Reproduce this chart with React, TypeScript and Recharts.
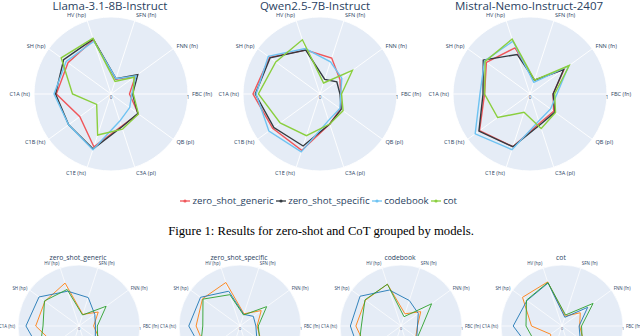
import React from 'react';
import { RadarChart, Radar, PolarGrid, PolarAngleAxis, PolarRadiusAxis, Legend } from 'recharts';

// ---------- data (values listed counter-clockwise from FBC at 3 o'clock) ----------
const categories = ['FBC (fn)', 'FNN (fn)', 'SFN (fn)', 'HV (hp)', 'SH (hp)', 'C1A (ht)', 'C1B (ht)', 'C1E (ht)', 'C3A (pl)', 'QB (pl)'];
const radialTickCount = 6;
const methods = ['zero_shot_generic', 'zero_shot_specific', 'codebook', 'cot'];
const models = ['Llama-3.1-8B-Instruct', 'Qwen2.5-7B-Instruct', 'Mistral-Nemo-Instruct-2407'];
const captionText = 'Figure 1: Results for zero-shot and CoT grouped by models.';

const llamaGeneric = [0.24, 0.39, 0.2, 0.74, 0.69, 0.71, 0.5, 0.72, 0.44, 0.44];
const llamaSpecific = [0.28, 0.43, 0.21, 0.75, 0.76, 0.72, 0.68, 0.75, 0.45, 0.43];
const llamaCodebook = [0.27, 0.4, 0.21, 0.72, 0.72, 0.74, 0.68, 0.76, 0.37, 0.3];
const llamaCot = [0.29, 0.37, 0.17, 0.76, 0.8, 0.5, 0.23, 0.56, 0.48, 0.44];

const qwenGeneric = [0.27, 0.32, 0.49, 0.6, 0.81, 0.87, 0.76, 0.77, 0.41, 0.33];
const qwenSpecific = [0.26, 0.27, 0.2, 0.6, 0.8, 0.84, 0.74, 0.71, 0.41, 0.34];
const qwenCodebook = [0.27, 0.35, 0.44, 0.62, 0.83, 0.83, 0.82, 0.79, 0.36, 0.32];
const qwenCot = [0.28, 0.52, 0.15, 0.74, 0.71, 0.8, 0.64, 0.57, 0.41, 0.37];

const mistralGeneric = [0.3, 0.55, 0.19, 0.63, 0.7, 0.59, 0.81, 0.72, 0.4, 0.38];
const mistralSpecific = [0.3, 0.54, 0.19, 0.54, 0.75, 0.61, 0.82, 0.72, 0.42, 0.4];
const mistralCodebook = [0.35, 0.62, 0.16, 0.72, 0.73, 0.65, 0.88, 0.76, 0.37, 0.33];
const mistralCot = [0.32, 0.63, 0.19, 0.75, 0.72, 0.59, 0.52, 0.25, 0.47, 0.41];

const methodColors = ['#F0565A', '#333a40', '#6EC3F2', '#8ACF3E'];
// bottom row: one line per model
const modelColors = ['#ff7f0e', '#1f77b4', '#2ca02c'];

const modelSeries = [
  [llamaGeneric, llamaSpecific, llamaCodebook, llamaCot],
  [qwenGeneric, qwenSpecific, qwenCodebook, qwenCot],
  [mistralGeneric, mistralSpecific, mistralCodebook, mistralCot],
];

// Recharts lays categories out clockwise; walk the list so that the picture runs counter-clockwise
const clockwiseOrder = [0, 9, 8, 7, 6, 5, 4, 3, 2, 1];

const topData = modelSeries.map((series) =>
  clockwiseOrder.map((i) => {
    const row: Record<string, any> = { axis: categories[i] };
    methods.forEach((m, j) => (row[m] = series[j][i]));
    return row;
  })
);
const bottomData = methods.map((_, j) =>
  clockwiseOrder.map((i) => {
    const row: Record<string, any> = { axis: categories[i] };
    models.forEach((mod, k) => (row[mod] = modelSeries[k][j][i]));
    return row;
  })
);

// ---------- helpers ----------
const TEXT = '#2a3f5f';
const FONT = '"Open Sans", "DejaVu Sans", sans-serif';
const fmt = (v: number) => String(Math.round(v * 10) / 10);

function angleTick(fontSize: number, cx: number, cy: number) {
  return (props: any) => {
    const { x, y, payload } = props;
    const dx = x - cx;
    const dy = y - cy;
    const len = Math.hypot(dx, dy) || 1;
    const c = dx / len;
    const s = -dy / len;
    const anchor = c > 0.1 ? 'start' : c < -0.1 ? 'end' : 'middle';
    const off = s > 0.8 ? 0 : s < -0.8 ? fontSize * 0.78 : fontSize * 0.35;
    return (
      <text x={x} y={y + off} textAnchor={anchor} fontSize={fontSize} fontFamily={FONT} fill={TEXT}>
        {payload.value}
      </text>
    );
  };
}

function radiusTick(fontSize: number) {
  return (props: any) => {
    const { x, y, payload } = props;
    return (
      <text x={x} y={y + fontSize * 1.15} textAnchor="middle" fontSize={fontSize} fontFamily={FONT} fill={TEXT}>
        {fmt(payload.value)}
      </text>
    );
  };
}

const renderLegend = (props: any) => {
  const payload = [...(props.payload || [])].sort(
    (a: any, b: any) => methods.indexOf(a.value) - methods.indexOf(b.value)
  );
  return (
    <div
      style={{
        display: 'flex',
        justifyContent: 'center',
        alignItems: 'center',
        fontFamily: FONT,
        fontSize: 9.7,
        color: TEXT,
        whiteSpace: 'nowrap',
      }}
    >
      {payload.map((e: any) => (
        <span key={e.value} style={{ display: 'inline-flex', alignItems: 'center', marginRight: 2.5 }}>
          <svg width={10} height={6} style={{ marginRight: 2 }}>
            <line x1={0} y1={3} x2={10} y2={3} stroke={e.color} strokeWidth={1.3} />
            <circle cx={5} cy={3} r={1.6} fill={e.color} />
          </svg>
          {e.value}
        </span>
      ))}
    </div>
  );
};

type PanelProps = {
  left: number;
  top: number;
  width: number;
  height: number;
  cx: number;
  cy: number;
  r: number;
  data: any[];
  keys: string[];
  colors: string[];
  strokeWidth: number;
  dotR: number;
  labelSize: number;
  radSize: number;
  tickGap: number;
  gridWidth: number;
  children?: React.ReactNode;
};

function Panel(p: PanelProps) {
  return (
    <div style={{ position: 'absolute', left: p.left, top: p.top, width: p.width, height: p.height }}>
      <div
        style={{
          position: 'absolute',
          left: p.cx - p.r,
          top: p.cy - p.r,
          width: 2 * p.r,
          height: 2 * p.r,
          borderRadius: '50%',
          background: '#E5ECF6',
        }}
      />
      <RadarChart
        width={p.width}
        height={p.height}
        data={p.data}
        cx={p.cx}
        cy={p.cy}
        outerRadius={p.r}
        startAngle={0}
        endAngle={-360}
        margin={{ top: 0, right: 0, bottom: 0, left: 0 }}
        style={{ overflow: 'visible' }}
      >
        <PolarGrid gridType="circle" stroke="#ffffff" strokeWidth={p.gridWidth} />
        <PolarAngleAxis
          dataKey="axis"
          tick={angleTick(p.labelSize, p.cx, p.cy)}
          tickLine={false}
          axisLine={false}
          tickSize={p.tickGap}
        />
        <PolarRadiusAxis
          angle={0}
          domain={[0, 1]}
          tickCount={radialTickCount}
          tick={radiusTick(p.radSize)}
          axisLine={false}
          tickLine={false}
        />
        {p.keys.map((k, i) => (
          <Radar
            key={k}
            name={k}
            dataKey={k}
            stroke={p.colors[i]}
            strokeWidth={p.strokeWidth}
            fill="none"
            fillOpacity={0}
            dot={{ r: p.dotR, fill: p.colors[i], stroke: p.colors[i], strokeWidth: 0 }}
            isAnimationActive={false}
          />
        ))}
        {p.children}
      </RadarChart>
    </div>
  );
}

const topCenters = [110.5, 320, 530];
const topTitleX = [110, 315, 529];
const bottomCenters = [79, 240, 401, 562];

export default function App() {
  return (
    <div
      style={{
        position: 'absolute',
        left: 0,
        top: 0,
        width: 640,
        height: 336,
        overflow: 'hidden',
        background: '#ffffff',
      }}
    >
      <svg width={640} height={336} style={{ position: 'absolute', left: 0, top: 0 }}>
        {models.map((m, i) => (
          <text key={m} x={topTitleX[i]} y={10.2} textAnchor="middle" fontSize={11.5} fontFamily={FONT} fill={TEXT}>
            {m}
          </text>
        ))}
        <text x={321} y={235} textAnchor="middle" fontSize={12.7} fontFamily='"Liberation Serif", "Times New Roman", serif' fill="#000">
          {captionText}
        </text>
        {methods.map((m, i) => (
          <text key={m} x={bottomCenters[i] - 1} y={259.6} textAnchor="middle" fontSize={6.8} fontFamily={FONT} fill={TEXT}>
            {m}
          </text>
        ))}
      </svg>

      {models.map((m, i) => (
        <Panel
          key={m}
          left={topCenters[i] - 110}
          top={0}
          width={220}
          height={i === 1 ? 215 : 185}
          cx={110}
          cy={94}
          r={77}
          data={topData[i]}
          keys={methods}
          colors={methodColors}
          strokeWidth={1.4}
          dotR={1.6}
          labelSize={5.6}
          radSize={4.6}
          tickGap={4}
          gridWidth={0.9}
        >
          {i === 1 ? (
            <Legend
              content={renderLegend}
              wrapperStyle={{ position: 'absolute', left: -30, top: 194, width: 280, margin: 0 }}
            />
          ) : null}
        </Panel>
      ))}

      {methods.map((m, i) => (
        <Panel
          key={m}
          left={bottomCenters[i] - 80}
          top={240}
          width={160}
          height={96}
          cx={80}
          cy={86}
          r={61}
          data={bottomData[i]}
          keys={models}
          colors={modelColors}
          strokeWidth={0.9}
          dotR={1.1}
          labelSize={4.4}
          radSize={3.8}
          tickGap={3}
          gridWidth={0.7}
        />
      ))}
    </div>
  );
}
